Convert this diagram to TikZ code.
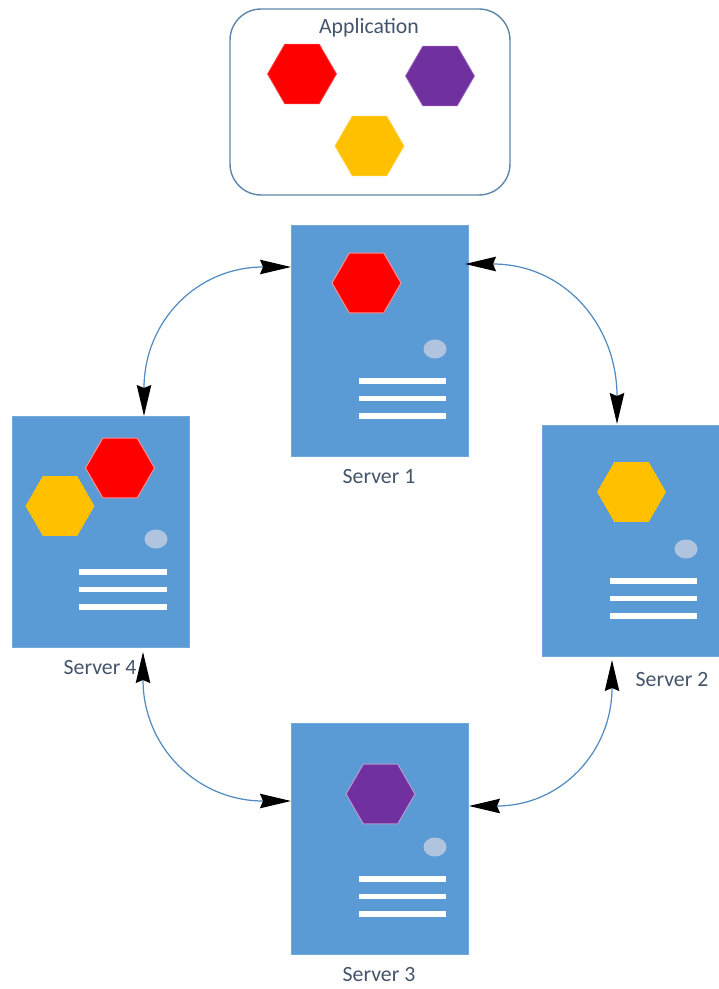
\documentclass[tikz,border=0pt]{standalone}
\usepackage{fontspec}
\setmainfont{Carlito}
\usetikzlibrary{arrows.meta}
\usetikzlibrary{shapes.geometric}
\definecolor{serverblue}{HTML}{5B9BD5}
\definecolor{boxedge}{HTML}{5F86A8}
\definecolor{labelgray}{HTML}{44546A}
\definecolor{dotblue}{HTML}{B0C4E0}
\definecolor{hexred}{HTML}{FF0000}
\definecolor{hexpurple}{HTML}{7030A0}
\definecolor{hexgold}{HTML}{FFC000}
\tikzset{
  server/.style={rectangle, fill=serverblue, draw=serverblue!85!white, line width=0.6pt,
    minimum width=3.54cm, minimum height=4.62cm, inner sep=0pt, outer sep=0pt},
  hexa/.style={regular polygon, regular polygon sides=6, minimum size=1.38cm,
    inner sep=0pt, outer sep=0pt},
  led/.style={ellipse, fill=dotblue, minimum width=0.46cm, minimum height=0.38cm, inner sep=0pt},
  slot/.style={draw=white, line width=3.3pt},
  label/.style={text=labelgray, font=\fontsize{12.4}{14}\selectfont},
  link/.style={draw=serverblue!90!black, line width=0.7pt,
    {Stealth[black, length=0.62cm, width=0.29cm, inset=0.06cm]}-{Stealth[black, length=0.62cm, width=0.29cm, inset=0.06cm]}}
}

\begin{document}
\begin{tikzpicture}[x=0.02cm, y=-0.02cm]

  \useasboundingbox (0,0) rectangle (718,989);

  % application
  \node[draw=boxedge, line width=0.8pt, rounded corners=0.62cm, minimum width=5.6cm,
    minimum height=3.72cm, inner sep=0pt] (app) at (370,102) {};
  \node[label] (applabel) at (369,28) {Application};
  \node[hexa, fill=hexred, draw=hexred!70!white] (appred) at (302,74) {};
  \node[hexa, fill=hexpurple, draw=hexpurple!70!white] (apppurple) at (440,76) {};
  \node[hexa, fill=hexgold, draw=hexgold!70!white] (appgold) at (369.5,146) {};

  % server 1
  \node[server] (s1) at (380,341) {};
  \node[hexa, fill=hexred, draw=hexred!45!white, line width=0.6pt] (s1red) at (366.5,283) {};
  \node[led] (s1led) at (435,349) {};
  \draw[slot] (359,381) -- (446,381);
  \draw[slot] (359,398.5) -- (446,398.5);
  \draw[slot] (359,416) -- (446,416);
  \node[label] (s1label) at (379,477) {Server 1};

  % server 2
  \node[server] (s2) at (631,541) {};
  \node[hexa, fill=hexgold] (s2gold) at (631.5,492) {};
  \node[led] (s2led) at (686,549) {};
  \draw[slot] (610,581) -- (697,581);
  \draw[slot] (610,598.5) -- (697,598.5);
  \draw[slot] (610,616) -- (697,616);
  \node[label] (s2label) at (672,679) {Server 2};

  % server 3
  \node[server] (s3) at (380,839) {};
  \node[hexa, fill=hexpurple, draw=hexpurple!50!white, line width=0.6pt] (s3purple) at (380.5,794) {};
  \node[led] (s3led) at (435,847) {};
  \draw[slot] (359,879) -- (446,879);
  \draw[slot] (359,896.5) -- (446,896.5);
  \draw[slot] (359,914) -- (446,914);
  \node[label] (s3label) at (379,974) {Server 3};

  % server 4
  \node[server] (s4) at (101,532) {};
  \node[hexa, fill=hexred, draw=hexred!45!white, line width=0.6pt] (s4red) at (120,468) {};
  \node[hexa, fill=hexgold] (s4gold) at (60,506) {};
  \node[led] (s4led) at (156,539) {};
  \draw[slot] (79,572) -- (167,572);
  \draw[slot] (79,589.5) -- (167,589.5);
  \draw[slot] (79,607) -- (167,607);
  \node[label] (s4label) at (100,667) {Server 4};

  % ends of the links
  \coordinate (s1left) at (291,267);
  \coordinate (s1right) at (465,264);
  \coordinate (s2top) at (617,424);
  \coordinate (s2bottom) at (612,660);
  \coordinate (s3right) at (469,806);
  \coordinate (s3left) at (291,801);
  \coordinate (s4bottom) at (143,652);
  \coordinate (s4top) at (144,416);

  \draw[link] (s1left) to[out=180, in=90, looseness=1.15] (s4top);
  \draw[link] (s1right) to[out=0, in=90, looseness=1.15] (s2top);
  \draw[link] (s3right) to[out=0, in=-90, looseness=1.15] (s2bottom);
  \draw[link] (s3left) to[out=180, in=-90, looseness=1.15] (s4bottom);

\end{tikzpicture}
\end{document}
